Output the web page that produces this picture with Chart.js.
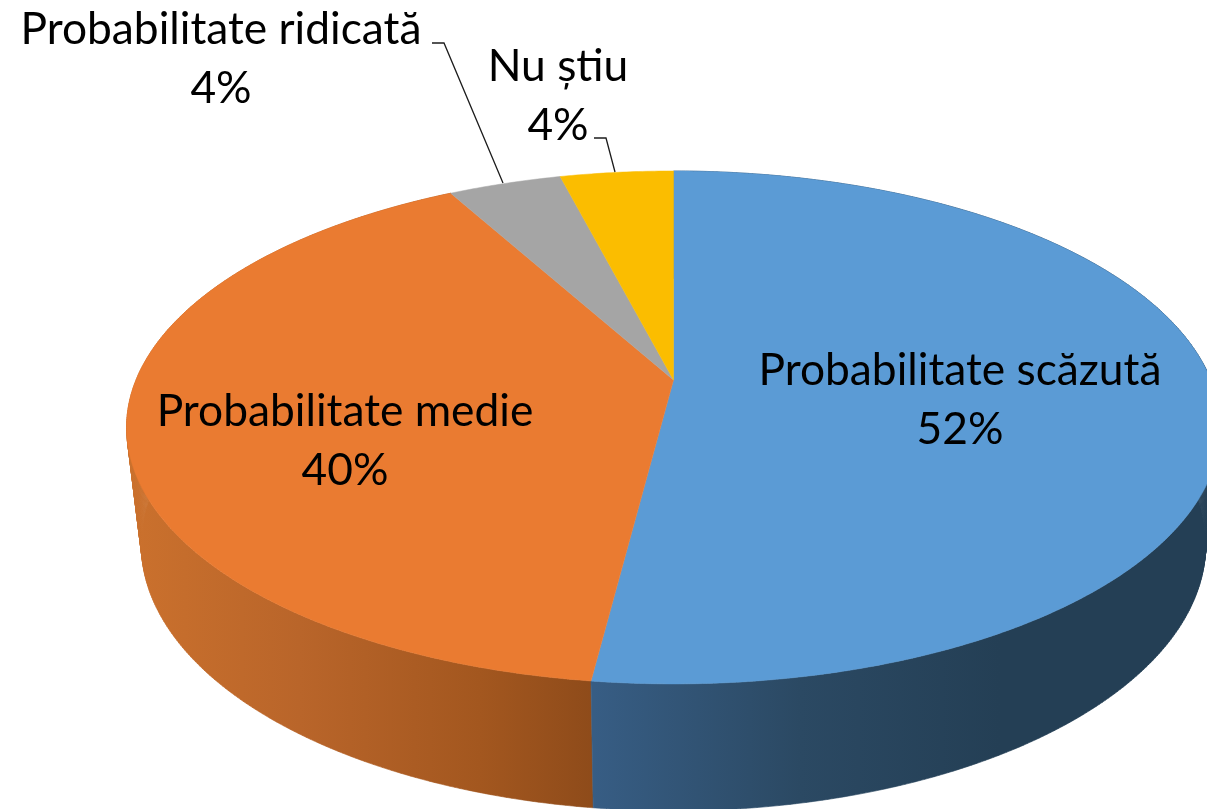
<!DOCTYPE html>
<html>
<head>
<meta charset="utf-8">
<style>html,body{margin:0;padding:0;background:#fff;overflow:hidden}canvas{display:block}</style>
<script src="https://cdn.jsdelivr.net/npm/chart.js@4/dist/chart.umd.min.js"></script>
</head>
<body>
<canvas id="c" width="1207" height="809"></canvas>
<script>
const categories = ["Probabilitate scăzută", "Probabilitate medie", "Probabilitate ridicată", "Nu știu"];
const shares = [52, 40, 4, 4];
const faceColors = ["#5B9BD5", "#EA7B31", "#A5A5A5", "#FBBD00"];

// perspective of the disc (view settings, not data)
const K = 0.185;
const TOP = {x0: 673.5, y0: 380, a: 247.7, b: 537.5};
const BOTTOM = {x0: 673.5, y0: 495.5, a: 257, b: 523};
const FONT = '44.3px Lato';
const LINE_GAP = 59;
const labelAt = [
  {x: 960, y: 385}, {x: 345, y: 426}, {x: 221, y: 44}, {x: 558, y: 81}
];
const leaders = {
  2: [[432, 43], [444, 43], [503, 183]],
  3: [[594, 138], [606, 138], [615, 172]]
};
const sideStops = {
  0: [[594, "#375D84"], [800, "#2B4963"], [1000, "#243F55"], [1207, "#243F55"]],
  1: [[127, "#CB712D"], [300, "#B9652A"], [480, "#A3571F"], [594, "#8E4B1A"]]
};

function project(p, ang) {
  const u = Math.cos(ang), v = Math.sin(ang), w = 1 - K * v;
  return [p.x0 + p.b * u / w, p.y0 + p.a * v / w];
}

const discPlugin = {
  id: 'disc',
  beforeDatasetsDraw(chart) {
    const ctx = chart.ctx, arcs = chart.getDatasetMeta(0).data;
    const step = Math.PI / 360;
    ctx.save();
    // side wall
    [1, 0].forEach(i => {
      const arc = arcs[i];
      const g = ctx.createLinearGradient(0, 0, 1207, 0);
      sideStops[i].forEach(s => g.addColorStop(s[0] / 1207, s[1]));
      ctx.fillStyle = g; ctx.strokeStyle = g; ctx.lineWidth = 0.6;
      ctx.beginPath();
      for (let a = arc.startAngle; a < arc.endAngle; a += step) {
        const e = Math.min(a + step, arc.endAngle);
        const p1 = project(TOP, a), p2 = project(TOP, e), p3 = project(BOTTOM, e), p4 = project(BOTTOM, a);
        ctx.moveTo(p1[0], p1[1]); ctx.lineTo(p2[0], p2[1]); ctx.lineTo(p3[0], p3[1]); ctx.lineTo(p4[0], p4[1]); ctx.closePath();
      }
      ctx.fill(); ctx.stroke();
    });
    // top faces
    arcs.forEach(arc => {
      ctx.fillStyle = arc.options.backgroundColor;
      ctx.strokeStyle = arc.options.backgroundColor;
      ctx.lineWidth = 0.5;
      ctx.beginPath();
      ctx.moveTo(TOP.x0, TOP.y0);
      for (let a = arc.startAngle; a < arc.endAngle; a += step) {
        const p = project(TOP, a); ctx.lineTo(p[0], p[1]);
      }
      const q = project(TOP, arc.endAngle); ctx.lineTo(q[0], q[1]);
      ctx.closePath(); ctx.fill(); ctx.stroke();
    });
    ctx.restore();
    return false;
  },
  afterDraw(chart) {
    const ctx = chart.ctx, values = chart.data.datasets[0].data;
    const total = values.reduce((s, v) => s + v, 0);
    ctx.save();
    ctx.strokeStyle = '#1c1c1c'; ctx.lineWidth = 1.3;
    Object.values(leaders).forEach(pts => {
      ctx.beginPath();
      pts.forEach((p, i) => i ? ctx.lineTo(p[0], p[1]) : ctx.moveTo(p[0], p[1]));
      ctx.stroke();
    });
    ctx.fillStyle = '#000'; ctx.font = FONT; ctx.textAlign = 'center'; ctx.textBaseline = 'alphabetic';
    chart.data.labels.forEach((t, i) => {
      ctx.fillText(t, labelAt[i].x, labelAt[i].y);
      ctx.fillText(Math.round(values[i] / total * 100) + '%', labelAt[i].x, labelAt[i].y + LINE_GAP);
    });
    ctx.restore();
  }
};

new Chart(document.getElementById('c'), {
  type: 'pie',
  data: {labels: categories, datasets: [{data: shares, backgroundColor: faceColors, borderWidth: 0}]},
  options: {
    responsive: false, animation: false, rotation: 0,
    layout: {padding: 0},
    plugins: {legend: {display: false}, tooltip: {enabled: false}}
  },
  plugins: [discPlugin]
});
</script>
</body>
</html>
